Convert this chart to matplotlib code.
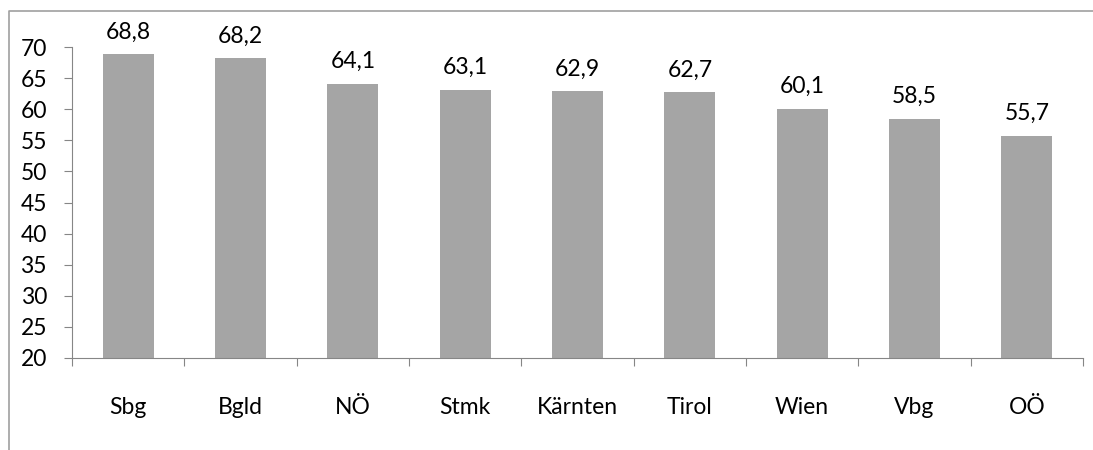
import matplotlib.pyplot as plt
from matplotlib.lines import Line2D

regions = ['Sbg', 'Bgld', 'NÖ', 'Stmk', 'Kärnten', 'Tirol', 'Wien', 'Vbg', 'OÖ']
values = [68.8, 68.2, 64.1, 63.1, 62.9, 62.7, 60.1, 58.5, 55.7]
yticks = list(range(20, 75, 5))

plt.rcParams['font.family'] = ['Lato', 'DejaVu Sans']

fig = plt.figure(figsize=(10.93, 4.5), dpi=100)
ax = fig.add_axes([72 / 1093, 1 - 358 / 450, (1083 - 72) / 1093, (358 - 47) / 450])

x = list(range(len(regions)))
ax.bar(x, values, width=0.455, color='#a5a5a5', zorder=2)
for xi, v in zip(x, values):
    ax.annotate(f'{v:.1f}'.replace('.', ','), (xi, v), xytext=(0, 16),
                textcoords='offset points', ha='center', va='center', fontsize=16.5)

ax.set_xlim(-0.5, len(regions) - 0.5)
ax.set_ylim(20, 70)
ax.set_yticks(yticks)
ax.tick_params(axis='y', labelsize=16.5, length=6, color='#868686', pad=12)

ax.set_xticks([i - 0.5 for i in range(len(regions) + 1)])
ax.set_xticklabels([])
ax.set_xticks(x, minor=True)
ax.set_xticklabels(regions, minor=True)
ax.tick_params(axis='x', which='major', length=6, color='#868686')
ax.tick_params(axis='x', which='minor', length=0, labelsize=16.5, pad=28)

for s in ['top', 'right']:
    ax.spines[s].set_visible(False)
for s in ['left', 'bottom']:
    ax.spines[s].set_color('#868686')

fx = 9 / 1093
fy = 1 - 11 / 450
fig.lines.append(Line2D([fx, fx, 1.0], [0.0, fy, fy], transform=fig.transFigure,
                        color='#a0a0a0', linewidth=1.2))

fig.savefig('out.png', dpi=100)
